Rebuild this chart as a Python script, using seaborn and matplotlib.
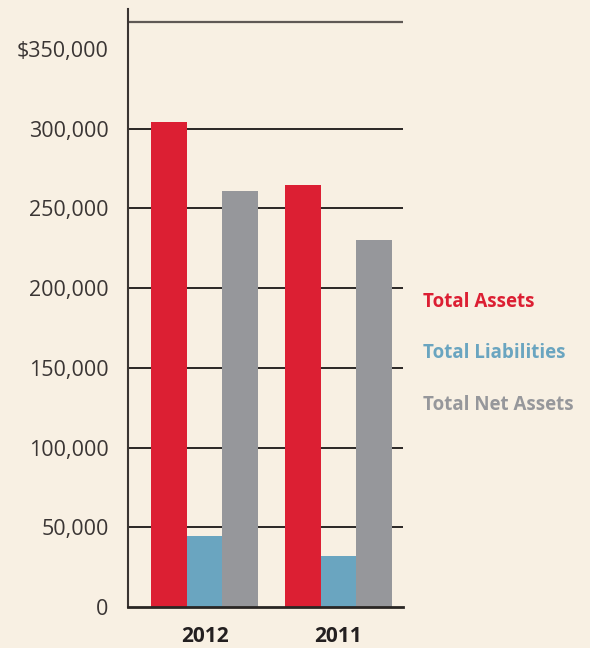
import matplotlib
matplotlib.use("Agg")
import matplotlib.pyplot as plt
import seaborn as sns
import pandas as pd

# datos
years = ["2012", "2011"]
series = ["Total Assets", "Total Liabilities", "Total Net Assets"]
total_assets = [304000, 264500]
total_liabilities = [44600, 32000]
total_net_assets = [261000, 230000]
colors = ["#dc1f33", "#6aa5c0", "#96979b"]
yticks = [0, 50000, 100000, 150000, 200000, 250000, 300000, 350000]
ytick_labels = ["0", "50,000", "100,000", "150,000", "200,000", "250,000", "300,000", "$350,000"]

bg = "#f8f0e3"
dark = "#2a2624"

df = pd.DataFrame({
    "year": years * 3,
    "series": [s for s in series for _ in years],
    "value": total_assets + total_liabilities + total_net_assets,
})

sns.set_theme(style="white")
plt.rcParams["font.family"] = ["Open Sans", "DejaVu Sans"]

fig = plt.figure(figsize=(5.9, 6.48), dpi=100, facecolor=bg)
ax = fig.add_axes([128 / 590, 41 / 648, 275 / 590, 598 / 648])
ax.set_facecolor(bg)

sns.barplot(data=df, x="year", y="value", hue="series", hue_order=series,
            palette=colors, width=0.8, saturation=1, legend=False,
            errorbar=None, linewidth=0, ax=ax)

ax.set_xlim(-0.571, 1.481)
ax.set_ylim(0, 375000)
ax.set_axisbelow(True)

# lineas horizontales (sin la de 350,000) y linea superior
for v in yticks[1:-1]:
    ax.axhline(v, color=dark, lw=1.4, zorder=0)
ax.axhline(367000, color="#5f5955", lw=1.6, zorder=0)

ax.set_yticks(yticks)
ax.set_yticklabels(ytick_labels)
ax.tick_params(axis="y", length=0, pad=14, labelsize=15.5, labelcolor="#3a3534")
ax.tick_params(axis="x", length=0, pad=13.5, labelsize=15, labelcolor="#231f20")
for t in ax.get_xticklabels():
    t.set_fontweight("bold")

ax.set_xlabel("")
ax.set_ylabel("")
for s in ["top", "right"]:
    ax.spines[s].set_visible(False)
ax.spines["left"].set_color("#3a3432")
ax.spines["left"].set_linewidth(1.5)
ax.spines["bottom"].set_color(dark)
ax.spines["bottom"].set_linewidth(2)

# leyenda como texto de color
for i, (name, c) in enumerate(zip(series, colors)):
    fig.text(423 / 590, 1 - (302 + 51.5 * i) / 648, name, color=c,
             fontsize=13.5, fontweight="bold", va="center", ha="left")

plt.savefig("out.png", dpi=100, facecolor=bg)
